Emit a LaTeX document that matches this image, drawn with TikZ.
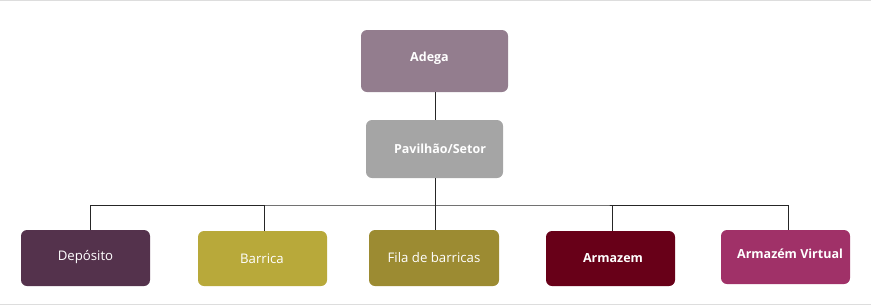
\documentclass[tikz,border=0pt]{standalone}
\usepackage{fontspec}
\setmainfont{Open Sans}
\definecolor{cAdega}{HTML}{937D8E}
\definecolor{cPav}{HTML}{A5A5A5}
\definecolor{cDep}{HTML}{54324C}
\definecolor{cBar}{HTML}{B8A93A}
\definecolor{cFila}{HTML}{9C8B32}
\definecolor{cArm}{HTML}{680018}
\definecolor{cVirt}{HTML}{A03168}
\definecolor{frame}{HTML}{DDDDDD}
\begin{document}
\begin{tikzpicture}[x=1pt,y=-1pt,
  box/.style={rounded corners=6pt},
  lblb/.style={text=white, font=\fontsize{12.5}{14}\selectfont\bfseries},
  lbln/.style={text=white, font=\fontsize{13.2}{15}\selectfont},
  link/.style={draw=black!85, line width=1pt}]
\useasboundingbox (0,0) rectangle (871,306);
\draw[frame, line width=1.2pt] (0,0.6) -- (871,0.6);
\draw[frame, line width=1.2pt] (0,304.5) -- (871,304.5);
% boxes
\path[box, fill=cAdega] (361,30) rectangle (508,92);
\node[lblb] (adega) at (429.5,58) {Adega};
\coordinate (adegaB) at (435,92);
\path[box, fill=cPav] (366,120) rectangle (503,178);
\node[lblb] (pav) at (440,149) {Pavilhão/Setor};
\coordinate (pavT) at (435,120);
\coordinate (pavB) at (435,178);
\path[box, fill=cDep] (21,230) rectangle (150,286);
\node[lbln] (dep) at (85.5,257) {Depósito};
\path[box, fill=cBar] (198,231) rectangle (327,286);
\node[lbln] (bar) at (262,259) {Barrica};
\path[box, fill=cFila] (369,230) rectangle (499,286);
\node[lbln] (fila) at (434,258) {Fila de barricas};
\path[box, fill=cArm] (546,231) rectangle (675,286);
\node[lblb] (arm) at (613,258) {Armazem};
\path[box, fill=cVirt] (721,230) rectangle (850,284);
\node[lblb] (virt) at (790,254) {Armazém Virtual};
\coordinate (depT) at (90,230);
\coordinate (barT) at (264,231);
\coordinate (filaT) at (435,230);
\coordinate (armT) at (612,231);
\coordinate (virtT) at (788,230);
\coordinate (bus) at (435,205);
% connectors
\draw[link] (adegaB) -- (pavT);
\draw[link] (pavB) -- (filaT);
\draw[link] (depT) |- (bus) -| (virtT);
\draw[link] (barT) -- (barT |- bus);
\draw[link] (armT) -- (armT |- bus);
\end{tikzpicture}
\end{document}
